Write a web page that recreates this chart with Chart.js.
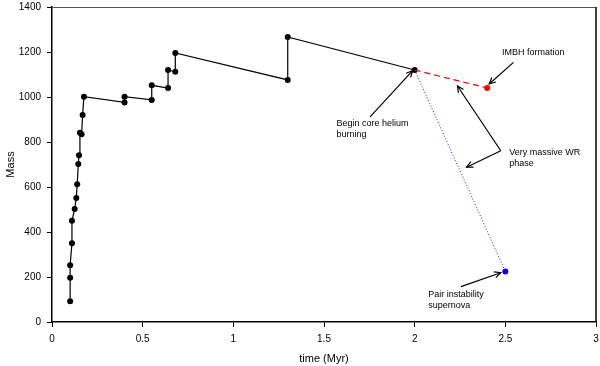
<!DOCTYPE html>
<html><head><meta charset="utf-8">
<script src="https://cdn.jsdelivr.net/npm/chart.js@4.4.0/dist/chart.umd.min.js"></script>
<style>html,body{margin:0;padding:0;background:#fff}#wrap{width:600px;height:366px}</style>
</head><body><div id="wrap"><canvas id="c" width="600" height="366"></canvas></div>
<script>
// Main evolution track (time in Myr, mass)
const trackTime = [0.10,0.10,0.10,0.11,0.11,0.125,0.134,0.139,0.145,0.149,0.154,0.163,0.169,0.176,0.40,0.40,0.55,0.55,0.64,0.64,0.68,0.68,1.30,1.30,2.00];
const trackMass = [92,197,252,350,450,502,551,612,702,741,841,834,920,1001,976,1001,987,1052,1040,1120,1112,1196,1076,1267,1120];
// Very massive WR phase -> IMBH formation (red dashed)
const imbhTime = [2.00,2.40];
const imbhMass = [1120,1040];
// Path to pair instability supernova (blue dotted)
const pisnTime = [2.00,2.50];
const pisnMass = [1120,225];
const xTicks = [0,0.5,1,1.5,2,2.5,3];
const yTicks = [0,200,400,600,800,1000,1200,1400];
// Annotations (data coordinates)
const notes = [
  {lines:["IMBH formation"], x:2.482, y:1197},
  {lines:["Begin core helium","burning"], x:1.569, y:883},
  {lines:["Very massive WR","phase"], x:2.521, y:752},
  {lines:["Pair instability","supernova"], x:2.075, y:120}
];
const arrows = [
  {from:[2.545,1154], to:[2.411,1058]},
  {from:[1.754,912], to:[1.989,1117]},
  {from:[2.475,761], to:[2.236,1049]},
  {from:[2.475,761], to:[2.286,688]},
  {from:[2.255,157], to:[2.475,219]}
];

const pts = (xs, ys) => xs.map((x,i)=>({x:x, y:ys[i]}));
const FONT = "'Liberation Sans', Arial, Helvetica, sans-serif";

const annotPlugin = {
  id:'annot',
  afterDatasetsDraw(chart){
    const ctx = chart.ctx, xs = chart.scales.x, ys = chart.scales.y;
    ctx.save();
    ctx.fillStyle = '#000';
    ctx.font = '9px ' + FONT;
    ctx.textAlign = 'left';
    ctx.textBaseline = 'middle';
    notes.forEach(n=>{
      const px = xs.getPixelForValue(n.x), py = ys.getPixelForValue(n.y);
      n.lines.forEach((l,i)=>ctx.fillText(l, px, py + i*11));
    });
    ctx.strokeStyle = '#000';
    ctx.lineWidth = 1.2;
    arrows.forEach(a=>{
      const x1 = xs.getPixelForValue(a.from[0]), y1 = ys.getPixelForValue(a.from[1]);
      const x2 = xs.getPixelForValue(a.to[0]), y2 = ys.getPixelForValue(a.to[1]);
      ctx.beginPath(); ctx.moveTo(x1,y1); ctx.lineTo(x2,y2); ctx.stroke();
      const ang = Math.atan2(y2-y1, x2-x1), h = 7, w = 0.45;
      ctx.beginPath();
      ctx.moveTo(x2 - h*Math.cos(ang-w), y2 - h*Math.sin(ang-w));
      ctx.lineTo(x2,y2);
      ctx.lineTo(x2 - h*Math.cos(ang+w), y2 - h*Math.sin(ang+w));
      ctx.stroke();
    });
    // frame: top and right
    const ca = chart.chartArea;
    ctx.lineWidth = 1;
    ctx.strokeStyle = '#555';
    ctx.beginPath(); ctx.moveTo(ca.left, ca.top+0.5); ctx.lineTo(ca.right, ca.top+0.5); ctx.stroke();
    ctx.strokeStyle = '#000';
    ctx.lineWidth = 1.5;
    ctx.beginPath(); ctx.moveTo(ca.right, ca.top); ctx.lineTo(ca.right, ca.bottom); ctx.stroke();
    ctx.restore();
  }
};

new Chart(document.getElementById('c'), {
  type:'scatter',
  data:{datasets:[
    {data:pts(imbhTime, imbhMass), showLine:true, borderColor:'#ff0000', borderWidth:1.2, borderDash:[6,4],
     pointRadius:[0,3], pointBackgroundColor:'#ff0000', pointBorderColor:'#ff0000', pointBorderWidth:0},
    {data:pts(pisnTime, pisnMass), showLine:true, borderColor:'#2020d0', borderWidth:1, borderDash:[1,2],
     pointRadius:[0,3], pointBackgroundColor:'#0000ff', pointBorderColor:'#0000ff', pointBorderWidth:0},
    {data:pts(trackTime, trackMass), showLine:true, borderColor:'#000', borderWidth:1.2,
     pointRadius:3, pointBackgroundColor:'#000', pointBorderColor:'#000', pointBorderWidth:0}
  ]},
  options:{
    responsive:false, animation:false,
    layout:{padding:{top:7,right:3,left:0,bottom:0}},
    plugins:{legend:{display:false}, tooltip:{enabled:false}},
    scales:{
      x:{type:'linear', min:0, max:3,
        afterFit:s=>{s.height=44; s.paddingLeft=0; s.paddingRight=0;},
        afterBuildTicks:s=>{s.ticks = xTicks.map(v=>({value:v}));},
        grid:{display:true, drawOnChartArea:false, drawTicks:true, tickLength:5, color:'#000'},
        border:{display:true, color:'#000', width:1.5},
        ticks:{color:'#000', font:{family:FONT,size:10}, padding:6, maxRotation:0, callback:v=>String(v)},
        title:{display:true, text:'time (Myr)', color:'#000', font:{family:FONT,size:11}, padding:{top:2,bottom:0}}
      },
      y:{type:'linear', min:0, max:1400,
        afterFit:s=>{s.width=52; s.paddingTop=0; s.paddingBottom=0;},
        afterBuildTicks:s=>{s.ticks = yTicks.map(v=>({value:v}));},
        grid:{display:true, drawOnChartArea:false, drawTicks:true, tickLength:5, color:'#000'},
        border:{display:true, color:'#000', width:1.5},
        ticks:{color:'#000', font:{family:FONT,size:10}, padding:6, callback:v=>String(v)},
        title:{display:true, text:'Mass', color:'#000', font:{family:FONT,size:11}, padding:{top:4,bottom:4}}
      }
    }
  },
  plugins:[annotPlugin]
});
</script></body></html>
